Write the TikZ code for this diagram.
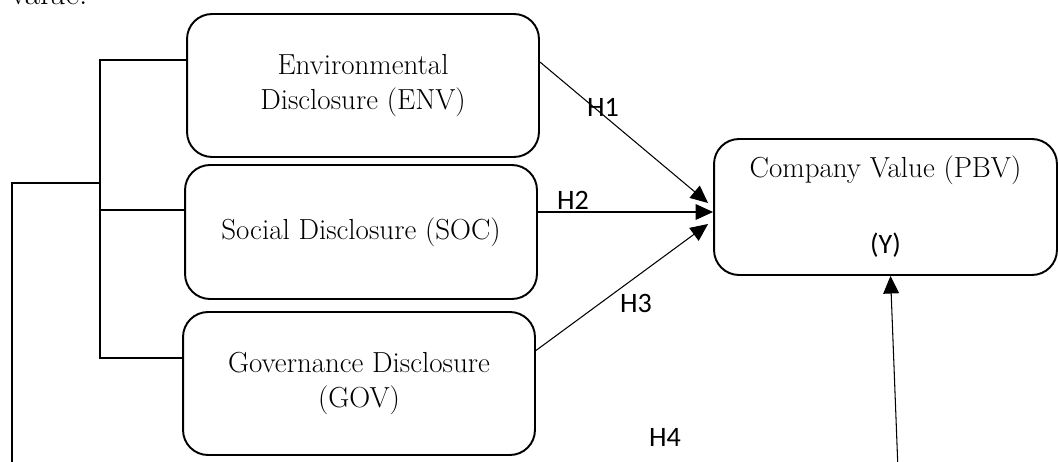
\documentclass[tikz,border=0pt]{standalone}
\usepackage{fontspec}
\newfontfamily\carlito{Carlito}
\usetikzlibrary{arrows.meta,calc}
\begin{document}
\begin{tikzpicture}[x=0.02cm,y=-0.02cm,
  box/.style={draw,line width=1.1pt,rounded corners=0.5cm,align=center,inner sep=0pt,
    font=\fontsize{16.5}{20}\selectfont},
  conn/.style={line width=0.6pt},
  arr/.style={line width=0.6pt,-{Triangle[length=10pt,width=9pt]}},
  hlab/.style={font=\carlito\fontsize{16}{19}\selectfont,inner sep=0pt}]
\useasboundingbox (0,0) rectangle (1058,462);
\node[anchor=base west,inner sep=0pt,font=\fontsize{19}{22}\selectfont] (val) at (10,5) {value.};
\node[box,minimum width=7.04cm,minimum height=2.86cm] (ENV) at (363,85.5) {Environmental\\Disclosure (ENV)};
\node[box,minimum width=7.04cm,minimum height=2.68cm] (SOC) at (361,232) {Social Disclosure (SOC)};
\node[box,minimum width=7.04cm,minimum height=2.86cm] (GOV) at (359,383.5) {Governance Disclosure\\(GOV)};
\node[box,minimum width=6.86cm,minimum height=2.72cm] (PBV) at (885.5,207) {Company Value (PBV)\\[0.82cm]{\carlito\fontsize{16}{19}\selectfont (Y)}};
% left tree
\coordinate (t1) at (100,60);
\coordinate (t2) at (100,210);
\coordinate (t3) at (100,358);
\coordinate (tm) at (100,183);
\coordinate (ol) at (12,183);
\coordinate (ob) at (12,470);
\draw[conn] ($(ENV.west)+(0,-25.5)$) -- (t1) -- (t3) -- ($(GOV.west)+(0,-25.5)$);
\draw[conn] ($(SOC.west)+(0,-22)$) -- (t2);
\draw[conn] (tm) -- (ol) -- (ob);
% arrows
\draw[arr] ($(ENV.east)+(0,-23.5)$) -- ($(PBV.west)+(-5,-4)$);
\draw[arr] ($(SOC.east)+(0,-20)$) -- ($(PBV.west)+(0,5)$);
\draw[arr] ($(GOV.east)+(0,-33)$) -- ($(PBV.west)+(-5,17)$);
\coordinate (bot) at (898,470);
\draw[arr] (bot) -- ($(PBV.south)+(5,0)$);
% labels
\node[hlab] (H1) at (603,107) {H1};
\node[hlab] (H2) at (573,200) {H2};
\node[hlab] (H3) at (636,303) {H3};
\node[hlab] (H4) at (665,437) {H4};
\end{tikzpicture}
\end{document}
